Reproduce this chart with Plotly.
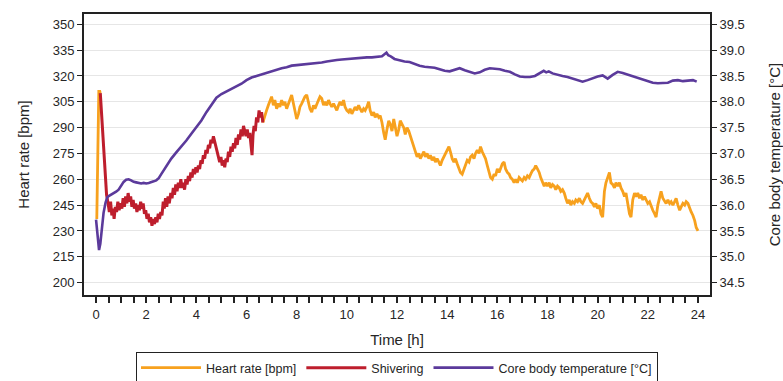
import plotly.graph_objects as go

# ---------------- data ----------------
# Heart rate, initial spike (before shivering)
hr_start_t = [0.03, 0.06, 0.09, 0.11, 0.15, 0.17]
hr_start_bpm = [237, 270, 305, 311, 311, 310]

# Heart rate during shivering
shiver_t = [0.17, 0.25, 0.33, 0.42, 0.48, 0.53, 0.58, 0.63, 0.68, 0.72, 0.77, 0.82, 0.87, 0.92, 0.98,
            1.03, 1.08, 1.13, 1.18, 1.23, 1.28, 1.33, 1.38, 1.43, 1.48, 1.53, 1.58, 1.63, 1.68, 1.73,
            1.78, 1.83, 1.88, 1.93, 1.98, 2.03, 2.08, 2.13, 2.18, 2.23, 2.28, 2.33, 2.38, 2.43, 2.48,
            2.53, 2.58, 2.63, 2.68, 2.72, 2.77, 2.82, 2.87, 2.92, 2.98, 3.03, 3.08, 3.13, 3.18, 3.23,
            3.28, 3.33, 3.38, 3.43, 3.48, 3.53, 3.58, 3.63, 3.68, 3.73, 3.78, 3.83, 3.88, 3.93, 3.98,
            4.03, 4.08, 4.13, 4.18, 4.23, 4.28, 4.33, 4.38, 4.43, 4.48, 4.53, 4.58, 4.63, 4.68, 4.73,
            4.78, 4.83, 4.88, 4.93, 4.98, 5.03, 5.08, 5.13, 5.18, 5.23, 5.28, 5.33, 5.38, 5.43, 5.48,
            5.53, 5.58, 5.63, 5.68, 5.73, 5.78, 5.83, 5.88, 5.93, 5.98, 6.03, 6.08, 6.13, 6.18, 6.22,
            6.26, 6.30, 6.35, 6.40, 6.45, 6.50, 6.55, 6.60, 6.65]
shiver_bpm = [310, 290, 268, 251, 246, 241, 247, 239, 243, 237, 244, 241, 247, 242, 246,
              243, 249, 244, 250, 246, 252, 247, 250, 244, 248, 243, 246, 241, 245, 242,
              247, 243, 246, 240, 242, 237, 240, 235, 238, 233, 237, 234, 238, 235, 240,
              237, 241, 239, 247, 243, 249, 244, 250, 246, 252, 249, 255, 251, 257, 253,
              258, 255, 260, 255, 258, 254, 260, 257, 262, 259, 264, 261, 266, 263, 267,
              264, 268, 266, 271, 269, 274, 272, 277, 275, 280, 278, 283, 281, 285, 282,
              279, 276, 274, 270, 273, 268, 271, 267, 272, 270, 276, 273, 279, 276, 281,
              278, 284, 280, 286, 283, 289, 285, 291, 287, 285, 289, 284, 287, 279, 274,
              286, 291, 288, 296, 293, 300, 296, 299, 293]

# Heart rate after shivering
hr_t = [6.65, 6.72, 6.80, 6.87, 6.93, 7.00, 7.07, 7.13, 7.20, 7.27, 7.33, 7.40, 7.47, 7.53, 7.60,
        7.67, 7.73, 7.80, 7.87, 7.93, 8.00, 8.07, 8.13, 8.20, 8.27, 8.33, 8.40, 8.47, 8.53, 8.60,
        8.67, 8.73, 8.80, 8.87, 8.93, 9.00, 9.07, 9.13, 9.20, 9.27, 9.33, 9.40, 9.47, 9.53, 9.60,
        9.67, 9.73, 9.80, 9.87, 9.93, 10.00, 10.07, 10.13, 10.20, 10.27, 10.33, 10.40, 10.47, 10.53,
        10.60, 10.67, 10.73, 10.80, 10.87, 10.93, 11.00, 11.07, 11.13, 11.20, 11.27, 11.33, 11.40,
        11.47, 11.53, 11.60, 11.67, 11.73, 11.80, 11.87, 11.93, 12.00, 12.07, 12.13, 12.20, 12.27,
        12.33, 12.40, 12.47, 12.53, 12.60, 12.67, 12.73, 12.80, 12.87, 12.93, 13.00, 13.07, 13.13,
        13.20, 13.27, 13.33, 13.40, 13.47, 13.53, 13.60, 13.67, 13.73, 13.80, 13.87, 13.93, 14.00,
        14.07, 14.13, 14.20, 14.27, 14.33, 14.40, 14.47, 14.53, 14.60, 14.67, 14.73, 14.80, 14.87,
        14.93, 15.00, 15.07, 15.13, 15.20, 15.27, 15.33, 15.40, 15.47, 15.53, 15.60, 15.67, 15.73,
        15.80, 15.87, 15.93, 16.00, 16.07, 16.13, 16.20, 16.27, 16.33, 16.40, 16.47, 16.53, 16.60,
        16.67, 16.73, 16.80, 16.87, 16.93, 17.00, 17.07, 17.13, 17.20, 17.27, 17.33, 17.40, 17.47,
        17.53, 17.60, 17.67, 17.73, 17.80, 17.87, 17.93, 18.00, 18.07, 18.13, 18.20, 18.27, 18.33,
        18.40, 18.47, 18.53, 18.60, 18.67, 18.73, 18.80, 18.87, 18.93, 19.00, 19.07, 19.13, 19.20,
        19.27, 19.33, 19.40, 19.47, 19.53, 19.60, 19.67, 19.73, 19.80, 19.87, 19.93, 20.00, 20.07,
        20.13, 20.20, 20.27, 20.33, 20.40, 20.47, 20.53, 20.60, 20.67, 20.73, 20.80, 20.87, 20.93,
        21.00, 21.07, 21.13, 21.20, 21.27, 21.33, 21.40, 21.47, 21.53, 21.60, 21.67, 21.73, 21.80,
        21.87, 21.93, 22.00, 22.07, 22.13, 22.20, 22.27, 22.33, 22.40, 22.47, 22.53, 22.60, 22.67,
        22.73, 22.80, 22.87, 22.93, 23.00, 23.07, 23.13, 23.20, 23.27, 23.33, 23.40, 23.47, 23.53,
        23.60, 23.67, 23.73, 23.80, 23.87, 23.93, 24.00]
hr_bpm = [293, 297, 300, 303, 305, 308, 303, 306, 301, 304, 302, 306, 303, 305, 301,
          304, 307, 309, 304, 299, 295, 298, 302, 304, 306, 308, 309, 305, 301, 299,
          303, 301, 304, 306, 308, 307, 303, 305, 303, 306, 304, 302, 304, 302, 300,
          303, 305, 303, 306, 302, 300, 299, 301, 298, 300, 302, 300, 303, 301,
          299, 301, 300, 302, 305, 300, 297, 299, 296, 298, 296, 297, 293,
          287, 283, 289, 294, 292, 288, 295, 291, 285, 289, 294, 292, 290,
          286, 290, 288, 285, 282, 279, 276, 273, 275, 272, 274, 276, 273,
          275, 272, 274, 271, 273, 270, 272, 270, 268, 271, 273, 275, 277,
          279, 276, 272, 270, 272, 269, 266, 264, 263, 266, 268, 271, 270,
          273, 274, 272, 275, 277, 275, 279, 276, 274, 272, 268, 264, 261,
          260, 263, 262, 266, 264, 267, 269, 270, 266, 264, 263, 261, 260,
          258, 260, 258, 261, 260, 259, 261, 260, 262, 261, 263, 265, 266,
          268, 266, 264, 261, 258, 256, 258, 256, 258, 255, 257, 256, 254,
          256, 255, 253, 254, 252, 249, 246, 248, 245, 247, 246, 248, 247,
          249, 247, 246, 248, 250, 252, 249, 247, 246, 244, 246, 243, 245,
          240, 238, 253, 258, 261, 264, 258, 257, 255, 258, 256, 258, 255,
          253, 250, 252, 246, 240, 238, 248, 252, 250, 252, 249, 251, 248,
          250, 248, 246, 247, 244, 242, 240, 238, 245, 250, 253, 249, 247,
          246, 248, 246, 247, 245, 247, 249, 245, 242, 244, 246, 245, 247,
          246, 243, 241, 239, 236, 232, 230]

# Core body temperature
temp_t = [0.0, 0.04, 0.08, 0.12, 0.17, 0.22, 0.3, 0.38, 0.45, 0.52, 0.6, 0.7, 0.8, 0.9, 1.0, 1.1,
          1.2, 1.3, 1.4, 1.5, 1.6, 1.7, 1.8, 1.9, 2.0, 2.1, 2.2, 2.3, 2.4, 2.5, 2.6, 2.7, 2.8, 3.0,
          3.2, 3.4, 3.6, 3.8, 4.0, 4.2, 4.4, 4.6, 4.8, 5.0, 5.2, 5.4, 5.6, 5.8, 6.0, 6.2, 6.4, 6.6,
          6.8, 7.0, 7.2, 7.4, 7.6, 7.8, 8.0, 8.2, 8.4, 8.6, 8.8, 9.0, 9.2, 9.4, 9.6, 9.8, 10.0,
          10.2, 10.4, 10.6, 10.8, 11.0, 11.2, 11.4, 11.5, 11.58, 11.65, 11.75, 11.9, 12.1, 12.3,
          12.5, 12.7, 12.9, 13.1, 13.3, 13.5, 13.7, 13.9, 14.1, 14.3, 14.5, 14.7, 14.9, 15.1, 15.3,
          15.5, 15.7, 15.9, 16.1, 16.3, 16.5, 16.7, 16.9, 17.1, 17.3, 17.5, 17.7, 17.85, 17.95,
          18.05, 18.2, 18.4, 18.6, 18.8, 19.0, 19.2, 19.4, 19.6, 19.8, 20.0, 20.2, 20.4, 20.6,
          20.8, 21.0, 21.2, 21.4, 21.6, 21.8, 22.0, 22.2, 22.4, 22.6, 22.8, 23.0, 23.2, 23.4,
          23.6, 23.8, 23.95]
temp_c = [35.72, 35.5, 35.2, 35.13, 35.25, 35.5, 35.85, 36.05, 36.15, 36.18, 36.2, 36.22, 36.26,
          36.3, 36.38, 36.45, 36.49, 36.5, 36.48, 36.45, 36.44, 36.43, 36.42, 36.43, 36.42, 36.43,
          36.44, 36.46, 36.48, 36.52, 36.6, 36.68, 36.76, 36.9, 37.02, 37.13, 37.25, 37.38, 37.5,
          37.64, 37.8, 37.95, 38.08, 38.15, 38.2, 38.24, 38.3, 38.35, 38.42, 38.47, 38.5, 38.53,
          38.56, 38.6, 38.62, 38.65, 38.67, 38.7, 38.71, 38.72, 38.72, 38.74, 38.75, 38.76, 38.78,
          38.8, 38.81, 38.82, 38.83, 38.84, 38.85, 38.86, 38.86, 38.86, 38.87, 38.88, 38.92, 38.95,
          38.9, 38.88, 38.83, 38.8, 38.78, 38.77, 38.73, 38.7, 38.68, 38.67, 38.66, 38.63, 38.6,
          38.59, 38.62, 38.65, 38.61, 38.58, 38.55, 38.57, 38.62, 38.65, 38.64, 38.63, 38.6, 38.58,
          38.53, 38.49, 38.48, 38.48, 38.5, 38.56, 38.6, 38.57, 38.59, 38.55, 38.52, 38.5, 38.48,
          38.45, 38.42, 38.39, 38.42, 38.46, 38.49, 38.51, 38.45, 38.52, 38.58, 38.56, 38.53, 38.5,
          38.47, 38.44, 38.41, 38.37, 38.36, 38.36, 38.37, 38.41, 38.42, 38.4, 38.41, 38.42, 38.39]

# Tick values
hr_ticks = [200, 215, 230, 245, 260, 275, 290, 305, 320, 335, 350]
temp_ticks = [34.5, 35.0, 35.5, 36.0, 36.5, 37.0, 37.5, 38.0, 38.5, 39.0, 39.5]
time_ticks = [0, 2, 4, 6, 8, 10, 12, 14, 16, 18, 20, 22, 24]

# ---------------- styling ----------------
ORANGE = "#F7A11E"
RED = "#BE1E2D"
PURPLE = "#5B3A9B"
FONT = "Liberation Sans, Arial, sans-serif"
TXT = "#262626"

fig = go.Figure()
fig.add_trace(go.Scatter(x=hr_start_t, y=hr_start_bpm, mode="lines", name="Heart rate [bpm]",
                         line=dict(color=ORANGE, width=2.8), legendgroup="hr", showlegend=True))
fig.add_trace(go.Scatter(x=hr_t, y=hr_bpm, mode="lines", name="Heart rate [bpm]",
                         line=dict(color=ORANGE, width=2.8), legendgroup="hr", showlegend=False))
fig.add_trace(go.Scatter(x=shiver_t, y=shiver_bpm, mode="lines", name="Shivering",
                         line=dict(color=RED, width=3)))
fig.add_trace(go.Scatter(x=temp_t, y=temp_c, mode="lines", name="Core body temperature [°C]",
                         line=dict(color=PURPLE, width=2.6), yaxis="y2"))

# y ranges: 150 bpm <-> 5 °C
y_lo, y_hi = 192.8, 356.0
t_lo = 34.5 + (y_lo - 200) / 30
t_hi = 34.5 + (y_hi - 200) / 30

fig.update_layout(
    width=783, height=381,
    margin=dict(l=84, r=73, t=14, b=86, autoexpand=False),
    paper_bgcolor="white", plot_bgcolor="white",
    font=dict(family=FONT, size=13, color=TXT),
    xaxis=dict(range=[-0.48, 24.48], tickvals=time_ticks, ticks="outside", ticklen=6,
               tickwidth=1.5, tickcolor="#222", showline=True, linecolor="#222", linewidth=1.8,
               mirror=True, showgrid=False, zeroline=False, automargin=False,
               minor=dict(dtick=0.5, tick0=0, ticks="outside", ticklen=6, tickwidth=1.5,
                          tickcolor="#222", showgrid=False),
               title=dict(text="Time [h]", font=dict(size=15), standoff=14),
               tickfont=dict(size=13)),
    yaxis=dict(range=[y_lo, y_hi], tickvals=hr_ticks, ticks="outside", ticklen=5,
               tickwidth=1.2, tickcolor="#222", showline=True, linecolor="#222", linewidth=1.8,
               showgrid=True, gridcolor="#E6E6E6", gridwidth=1.2, zeroline=False, automargin=False,
               title=dict(text="Heart rate [bpm]", font=dict(size=15), standoff=20),
               tickfont=dict(size=13)),
    yaxis2=dict(range=[t_lo, t_hi], tickvals=temp_ticks, tickformat=".1f", overlaying="y",
                side="right", ticks="outside", ticklen=5, tickwidth=1.2, tickcolor="#222",
                showline=True, linecolor="#222", linewidth=1.8, showgrid=False, zeroline=False,
                automargin=False,
                title=dict(text="Core body temperature [°C]", font=dict(size=15), standoff=30),
                tickfont=dict(size=13)),
    legend=dict(orientation="h", x=0.5, xanchor="center", y=-0.203, yanchor="top",
                bordercolor="#222", borderwidth=1, bgcolor="white",
                font=dict(size=12.5), itemwidth=60, tracegroupgap=0),
    showlegend=True,
)

fig.write_html("out.html", config={"displayModeBar": False},
               post_script="document.body.style.margin='0';document.body.style.overflow='hidden';")
